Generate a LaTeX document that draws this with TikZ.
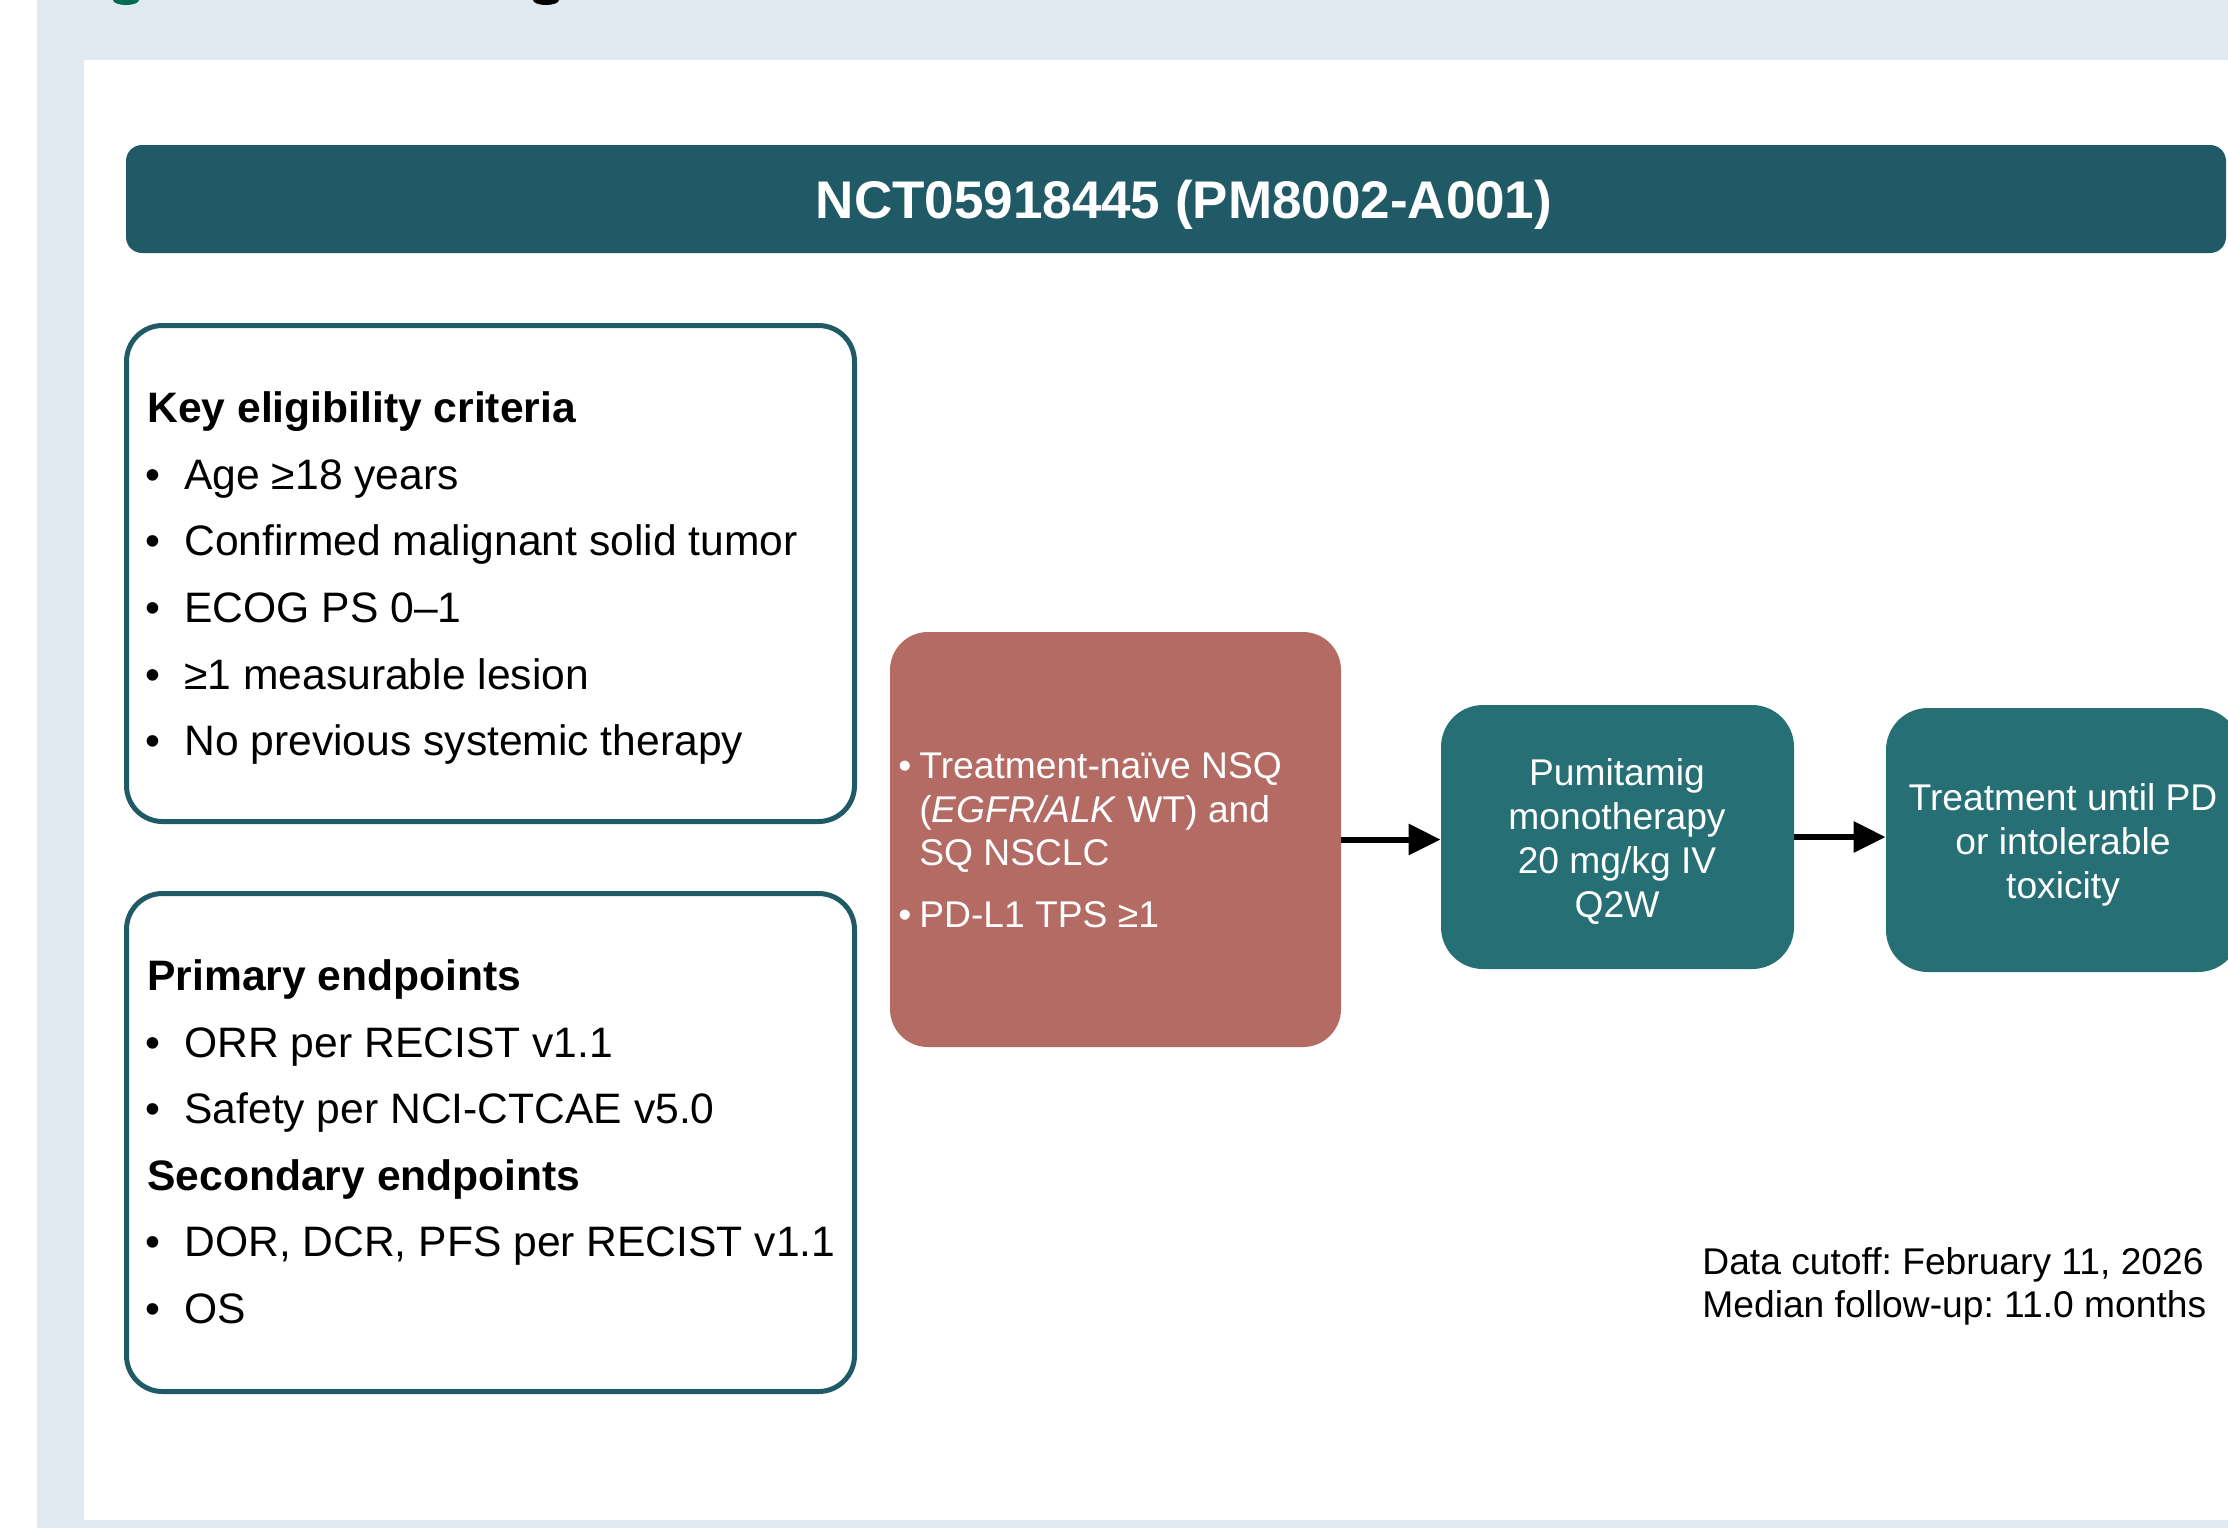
\documentclass[tikz,border=0pt]{standalone}
\usepackage{fontspec}
\setmainfont{Liberation Sans}
\usetikzlibrary{arrows.meta}
\definecolor{bgband}{HTML}{E0E8F0}
\definecolor{titlebar}{HTML}{1F5A66}
\definecolor{tealbox}{HTML}{266F75}
\definecolor{redbox}{HTML}{B46B63}
\definecolor{figgreen}{HTML}{006B4F}
\frenchspacing
\begin{document}
\begin{tikzpicture}[x=0.5pt,y=-0.5pt,
  outline/.style={draw=titlebar, line width=2.5pt, rounded corners=18pt, fill=white, inner sep=0pt},
  redstyle/.style={fill=redbox, rounded corners=19pt, inner sep=0pt},
  tealstyle/.style={fill=tealbox, rounded corners=21pt, inner sep=0pt},
  body/.style={anchor=base west, inner sep=0pt, font=\fontsize{21.3pt}{25pt}\selectfont},
  bodyhead/.style={anchor=base west, inner sep=0pt, font=\fontsize{21.3pt}{25pt}\selectfont\bfseries},
  bdot/.style={anchor=base, inner sep=0pt, font=\fontsize{21.3pt}{25pt}\selectfont},
  wleft/.style={anchor=base west, inner sep=0pt, text=white, font=\fontsize{18.6pt}{22pt}\selectfont},
  wdot/.style={anchor=base, inner sep=0pt, text=white, font=\fontsize{18.6pt}{22pt}\selectfont},
  wmid/.style={anchor=base, inner sep=0pt, text=white, font=\fontsize{18.6pt}{22pt}\selectfont},
  note/.style={anchor=base west, inner sep=0pt, font=\fontsize{18.6pt}{22pt}\selectfont},
  arr/.style={line width=3pt, -{Triangle[length=16pt,width=15pt]}}
]
\clip (0,0) rectangle (2228,1528);
% background
\fill[white] (0,0) rectangle (2228,1528);
\fill[bgband] (37,0) rectangle (2228,1528);
\fill[white] (84,60) rectangle (2228,1520);
% cut-off glyph fragments at the top edge
\fill[figgreen] (126,0) ellipse [x radius=6.5pt, y radius=2.5pt];
\fill[black] (546,0) ellipse [x radius=6.5pt, y radius=2.5pt];

% title bar
\node (bar) [fill=titlebar, rounded corners=8pt, inner sep=0pt, minimum width=1050pt, minimum height=54pt] at (1176,199) {};
\node (title) [anchor=base, inner sep=0pt, text=white, font=\fontsize{26.5pt}{30pt}\selectfont\bfseries] at (1184,218) {NCT05918445 (PM8002-A001)};

% eligibility box
\node (elig) [outline, minimum width=364pt, minimum height=248pt] at (490.5,573.5) {};
\node (eh) [bodyhead] at (147,422) {Key eligibility criteria};
\node (ed1) [bdot] at (153,489) {•};
\node (e1) [body] at (184,489) {Age ≥18 years};
\node (ed2) [bdot] at (153,555) {•};
\node (e2) [body] at (184,555) {Confirmed malignant solid tumor};
\node (ed3) [bdot] at (153,622) {•};
\node (e3) [body] at (184,622) {ECOG PS 0–1};
\node (ed4) [bdot] at (153,689) {•};
\node (e4) [body] at (184,689) {≥1 measurable lesion};
\node (ed5) [bdot] at (153,755) {•};
\node (e5) [body] at (184,755) {No previous systemic therapy};

% endpoints box
\node (endp) [outline, minimum width=364pt, minimum height=249pt] at (490.5,1142.5) {};
\node (ph) [bodyhead] at (147,990) {Primary endpoints};
\node (pd1) [bdot] at (153,1057) {•};
\node (p1) [body] at (184,1057) {ORR per RECIST v1.1};
\node (pd2) [bdot] at (153,1123) {•};
\node (p2) [body] at (184,1123) {Safety per NCI-CTCAE v5.0};
\node (sh) [bodyhead] at (147,1190) {Secondary endpoints};
\node (sd1) [bdot] at (153,1256) {•};
\node (s1) [body] at (184,1256) {DOR, DCR, PFS per RECIST v1.1};
\node (sd2) [bdot] at (153,1323) {•};
\node (s2) [body] at (184,1323) {OS};

% population box
\node (red) [redstyle, minimum width=225.5pt, minimum height=207.5pt] at (1115.5,839.5) {};
\node (rd1) [wdot] at (905,778) {•};
\node (r1) [wleft] at (919,778) {Treatment-naïve NSQ};
\node (r2) [wleft] at (919,822) {(\textit{EGFR/ALK} WT) and};
\node (r3) [wleft] at (919,865) {SQ NSCLC};
\node (rd2) [wdot] at (905,927) {•};
\node (r4) [wleft] at (919,927) {PD-L1 TPS ≥1};

% treatment box
\node (pum) [tealstyle, minimum width=176.5pt, minimum height=132pt] at (1617.5,837) {};
\node (m1) [wmid] at (1617,785) {Pumitamig};
\node (m2) [wmid] at (1617,829) {monotherapy};
\node (m3) [wmid] at (1617,873) {20 mg/kg IV};
\node (m4) [wmid] at (1617,917) {Q2W};

% continuation box
\node (trt) [tealstyle, minimum width=177pt, minimum height=132pt] at (2063,840) {};
\node (t1) [wmid] at (2063,810) {Treatment until PD};
\node (t2) [wmid] at (2063,854) {or intolerable};
\node (t3) [wmid] at (2063,898) {toxicity};

% arrows
\draw[arr] (red.east) -- (red.east -| pum.west);
\draw[arr] (pum.east) -- (pum.east -| trt.west);

% notes
\node (n1) [note] at (1702,1274) {Data cutoff: February 11, 2026};
\node (n2) [note] at (1702,1317) {Median follow-up: 11.0 months};
\end{tikzpicture}
\end{document}
